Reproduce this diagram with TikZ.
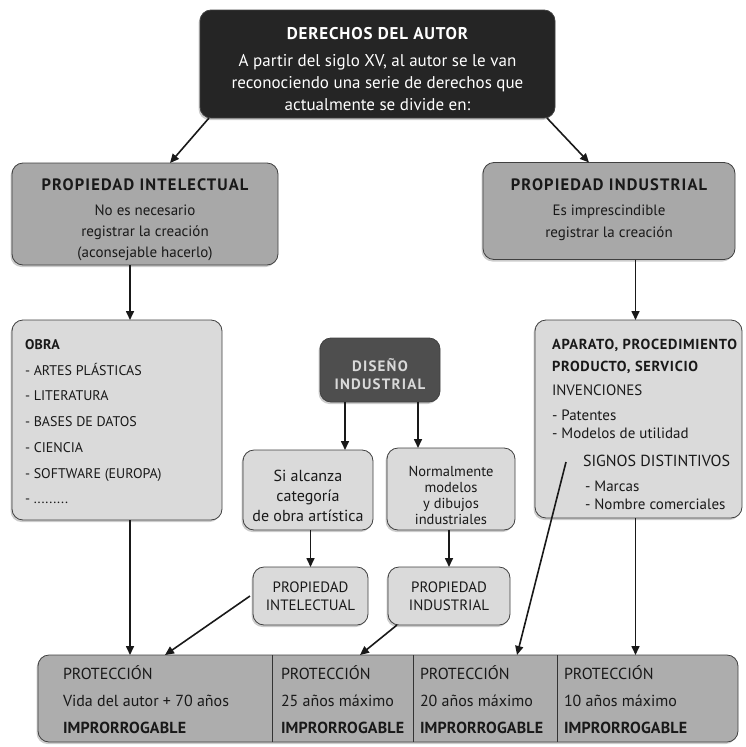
\documentclass[tikz,border=0pt]{standalone}
\usepackage{fontspec}
\setmainfont{PT Sans}
\usetikzlibrary{arrows.meta,shadows}
\definecolor{topbg}{HTML}{252525}
\definecolor{disbg}{HTML}{4E4E4E}
\definecolor{midgray}{HTML}{A8A8A8}
\definecolor{lightgray}{HTML}{DADADA}
\definecolor{botgray}{HTML}{ADADAD}
\newcommand\bsp[2]{{\bfseries\addfontfeatures{LetterSpace=#1}#2}}
\begin{document}
\begin{tikzpicture}[x=1pt,y=-1pt,
  every node/.style={inner sep=0pt, outer sep=0pt},
  box/.style={draw=black!75, line width=0.8pt, rounded corners=11pt,
    drop shadow={shadow xshift=-1.5pt, shadow yshift=-2pt, opacity=0.4}},
  darkbox/.style={box, fill=topbg},
  graybox/.style={box, fill=midgray},
  lightbox/.style={box, fill=lightgray},
  txt/.style={text=black!90},
  arr/.style={line width=1.6pt, black!90, -{Triangle[length=9pt,width=8pt]}},
  celltxt/.style={txt, anchor=west, align=left, font=\fontsize{16}{27}\selectfont}]
\useasboundingbox (0,0) rectangle (745,747);

% top box
\node[darkbox, minimum width=355pt, minimum height=108pt] (top) at (377.5,64) {};
\node[text=white, align=center, font=\fontsize{17}{22}\selectfont] (topt) at (377.5,69.5)
  {\bsp{5}{DERECHOS DEL AUTOR}\\[5pt]
   A partir del siglo XV, al autor se le van\\
   reconociendo una serie de derechos que\\
   actualmente se divide en:};

% second level
\node[graybox, minimum width=266pt, minimum height=102pt] (pi) at (145,214) {};
\node[txt, align=center, font=\fontsize{15}{21}\selectfont] (pit) at (145,219.5)
  {\bsp{7}{\fontsize{16.5}{21}\selectfont PROPIEDAD INTELECTUAL}\\[4pt]
   No es necesario\\ registrar la creación\\ (aconsejable hacerlo)};
\node[graybox, minimum width=252pt, minimum height=97pt] (pind) at (609,211) {};
\node[txt, align=center, font=\fontsize{15}{22}\selectfont] (pindt) at (609,210)
  {\bsp{7}{\fontsize{16.5}{21}\selectfont PROPIEDAD INDUSTRIAL}\\[3pt]
   Es imprescindible\\ registrar la creación};

% OBRA
\node[lightbox, minimum width=210pt, minimum height=200pt] (obra) at (117,420) {};
\node[txt, anchor=north west, align=left, font=\fontsize{14}{25.7}\selectfont] (obrat) at (25,339.5)
  {\bsp{2}{OBRA}\\
   - ARTES PLÁSTICAS\\
   - LITERATURA\\
   - BASES DE DATOS\\
   - CIENCIA\\
   - SOFTWARE (EUROPA)\\
   - .........};

% APARATO
\node[lightbox, minimum width=207pt, minimum height=198pt] (apar) at (638.5,419) {};
\node[txt, anchor=north west, align=left, font=\fontsize{15}{18}\selectfont] (apart) at (552,339)
  {\bsp{5}{\fontsize{14.5}{18}\selectfont APARATO, PROCEDIMIENTO}\\[4pt]
   \bsp{5}{\fontsize{14.5}{18}\selectfont PRODUCTO, SERVICIO}\\[6pt]
   INVENCIONES\\[7pt]
   - Patentes\\
   - Modelos de utilidad\\[10pt]
   \hspace*{31pt}{\fontsize{16}{18}\selectfont SIGNOS DISTINTIVOS}\\[7pt]
   \hspace*{33pt}- Marcas\\
   \hspace*{33pt}- Nombre comerciales};

% Diseño industrial
\node[box, fill=disbg, minimum width=120pt, minimum height=64pt] (dis) at (380,370) {};
\node[text=white!85!black, align=center, font=\fontsize{15}{18}\selectfont] (dist) at (380,374)
  {\bsp{8}{DISEÑO}\\ \bsp{8}{INDUSTRIAL}};

\node[lightbox, minimum width=130pt, minimum height=80pt] (si) at (308,490) {};
\node[txt, align=center, font=\fontsize{16}{20}\selectfont] (sit) at (308,496)
  {Si alcanza\\ categoría\\ de obra artística};
\node[lightbox, minimum width=128pt, minimum height=82pt] (norm) at (451,489) {};
\node[txt, align=center, font=\fontsize{14.5}{16}\selectfont] (normt) at (451,495)
  {Normalmente\\ modelos\\ y dibujos\\ industriales};

\node[lightbox, minimum width=115pt, minimum height=58pt, txt, align=center,
  font=\fontsize{15}{18}\selectfont] (spi) at (310.5,596)
  {PROPIEDAD\\ INTELECTUAL};
\node[lightbox, minimum width=122pt, minimum height=58pt, txt, align=center,
  font=\fontsize{15}{18}\selectfont] (spind) at (449,596)
  {PROPIEDAD\\ INDUSTRIAL};

% bottom protection box
\node[box, fill=botgray, minimum width=700pt, minimum height=87pt] (prot) at (388,698.5) {};
\draw[black!80, line width=0.8pt] ([xshift=234pt]prot.north west) -- ([xshift=234pt]prot.south west);
\draw[black!80, line width=0.8pt] ([xshift=375pt]prot.north west) -- ([xshift=375pt]prot.south west);
\draw[black!80, line width=0.8pt] ([xshift=519pt]prot.north west) -- ([xshift=519pt]prot.south west);
\node[celltxt] (c1) at (63,700) {PROTECCIÓN\\ Vida del autor + 70 años\\ \bsp{1}{IMPRORROGABLE}};
\node[celltxt] (c2) at (281,700) {PROTECCIÓN\\ 25 años máximo\\ \bsp{1}{IMPRORROGABLE}};
\node[celltxt] (c3) at (420,700) {PROTECCIÓN\\ 20 años máximo\\ \bsp{1}{IMPRORROGABLE}};
\node[celltxt] (c4) at (564,700) {PROTECCIÓN\\ 10 años máximo\\ \bsp{1}{IMPRORROGABLE}};

% connectors
\draw[arr] ([xshift=9pt]top.south west) -- ([xshift=25pt]pi.north);
\draw[arr] ([xshift=-8pt]top.south east) -- ([xshift=-20pt]pind.north);
\draw[arr] ([xshift=13pt]obra.north |- pi.south) -- ([xshift=13pt]obra.north);
\draw[arr] ([xshift=-3pt]apar.north |- pind.south) -- ([xshift=-3pt]apar.north);
\draw[arr] ([xshift=37pt]si.north |- dis.south) -- ([xshift=37pt]si.north);
\draw[arr] ([xshift=-33pt]norm.north |- dis.south) -- ([xshift=-33pt]norm.north);
\draw[arr] (spi.north |- si.south) -- (spi.north);
\draw[arr] (spind.north |- norm.south) -- (spind.north);
\draw[arr] ([xshift=13pt]obra.south) -- ([xshift=13pt]obra.south |- prot.north);
\draw[arr] ([xshift=-3pt]spi.west) -- ([xshift=127pt]prot.north west);
\draw[arr] ([xshift=9pt]spind.south west) -- ([xshift=322pt]prot.north west);
\coordinate (lk) at (566,462);
\draw[arr] (lk) -- ([xshift=479pt]prot.north west);
\draw[arr] ([xshift=-3pt]apar.south) -- ([xshift=-3pt]apar.south |- prot.north);
\end{tikzpicture}
\end{document}
